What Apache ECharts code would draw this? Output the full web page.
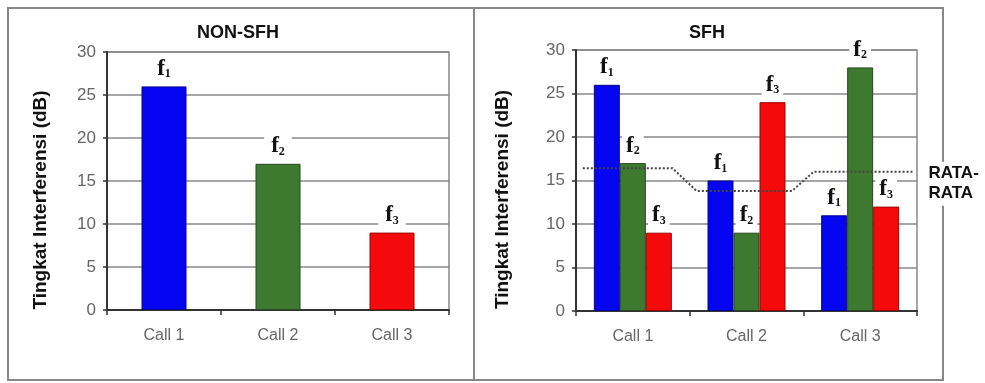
<!DOCTYPE html>
<html><head><meta charset="utf-8">
<script src="https://cdn.jsdelivr.net/npm/echarts@6/dist/echarts.min.js"></script>
<style>html,body{margin:0;padding:0;background:#fff}#c{width:985px;height:383px}</style>
</head><body><div id="c"></div>
<script>
// ---- data ----
const categories = ['Call 1', 'Call 2', 'Call 3'];
const yTicks = [0, 5, 10, 15, 20, 25, 30];
const nonSfhValues = [26, 17, 9];
const nonSfhFreq = ['1', '2', '3'];
const sfhF1 = [26, 15, 11];
const sfhF2 = [17, 9, 28];
const sfhF3 = [9, 24, 12];
// average (RATA-RATA) dotted line, x in category units (0..3)
const avgX = [0.06, 0.85, 1.06, 1.90, 2.09, 2.96];
const avgY = [16.4, 16.4, 13.8, 13.8, 16, 16];
const avgLabel = 'RATA-\nRATA';

const colors = ['#0505f2', '#3d7a30', '#f40a0a'];
const borders = ['#060690', '#26491d', '#9a0505'];

const sans = 'Liberation Sans, Arial, sans-serif';
const serif = 'Liberation Serif, Times New Roman, serif';

const rich = {
  f: { fontFamily: serif, fontWeight: 'bold', fontSize: 23, lineHeight: 22, color: '#111', verticalAlign: 'bottom' },
  s: { fontFamily: serif, fontWeight: 'bold', fontSize: 12, lineHeight: 4, color: '#111', verticalAlign: 'bottom' }
};
function fLabel(idx, padX) {
  return {
    show: true, position: 'top', distance: 3,
    formatter: '{f|f}{s|' + idx + '}',
    backgroundColor: '#fff', padding: [3, padX, 3, padX],
    rich: rich
  };
}

function yAxisCfg(gridIndex, gap) {
  return {
    type: 'value', gridIndex: gridIndex,
    min: yTicks[0], max: yTicks[yTicks.length - 1], interval: yTicks[1] - yTicks[0],
    name: 'Tingkat Interferensi (dB)', nameLocation: 'middle', nameGap: gap, nameRotate: 90,
    nameTextStyle: { fontFamily: sans, fontWeight: 'bold', fontSize: 19, color: '#111', padding: [0, 38, 0, 0] },
    axisLine: { show: true, lineStyle: { color: '#333', width: 2 } },
    axisTick: { show: true, length: 4, lineStyle: { color: '#333', width: 1.5 } },
    axisLabel: { fontFamily: sans, fontSize: 17, color: '#666', margin: 11 },
    splitLine: { show: true, lineStyle: { color: '#888', width: 1.5 } }
  };
}
function xAxisCfg(gridIndex) {
  return {
    type: 'category', gridIndex: gridIndex, data: categories,
    axisLine: { show: true, lineStyle: { color: '#333', width: 2 } },
    axisTick: { show: true, length: 5, alignWithLabel: false, lineStyle: { color: '#333', width: 1.5 } },
    axisLabel: { fontFamily: sans, fontSize: 16, color: '#666', margin: 18 },
    splitLine: { show: false }
  };
}

const chart = echarts.init(document.getElementById('c'), null, { renderer: 'canvas' });
chart.setOption({
  animation: false,
  backgroundColor: '#fff',
  title: [
    { text: 'NON-SFH', left: 238, top: 24, textAlign: 'center', padding: 0,
      textStyle: { fontFamily: sans, fontWeight: 'bold', fontSize: 18, color: '#111' } },
    { text: 'SFH', left: 707, top: 24, textAlign: 'center', padding: 0,
      textStyle: { fontFamily: sans, fontWeight: 'bold', fontSize: 18, color: '#111' } }
  ],
  graphic: [
    { type: 'rect', z: 0, shape: { x: 8, y: 8, width: 466, height: 372 },
      style: { fill: 'none', stroke: '#888', lineWidth: 2 } },
    { type: 'rect', z: 0, shape: { x: 474, y: 8, width: 469, height: 372 },
      style: { fill: 'none', stroke: '#888', lineWidth: 2 } }
  ],
  grid: [
    { left: 107, right: 536, top: 52, bottom: 73, show: true, borderColor: '#888', borderWidth: 1.5, backgroundColor: 'transparent' },
    { left: 576, right: 68, top: 50, bottom: 72, show: true, borderColor: '#888', borderWidth: 1.5, backgroundColor: 'transparent' }
  ],
  xAxis: [
    xAxisCfg(0),
    xAxisCfg(1),
    { type: 'value', gridIndex: 1, min: 0, max: 3, show: false }
  ],
  yAxis: [yAxisCfg(0, 57), yAxisCfg(1, 64)],
  series: [
    {
      name: 'NON-SFH', type: 'bar', xAxisIndex: 0, yAxisIndex: 0, barWidth: 45,
      data: nonSfhValues.map(function (v, i) {
        return { value: v, itemStyle: { color: colors[i], borderColor: borders[i], borderWidth: 1 }, label: fLabel(nonSfhFreq[i], 7) };
      })
    },
    { name: 'f1', type: 'bar', xAxisIndex: 1, yAxisIndex: 1, barWidth: 26, barGap: '0%',
      itemStyle: { color: colors[0], borderColor: borders[0], borderWidth: 1 }, label: fLabel('1', 4), data: sfhF1 },
    { name: 'f2', type: 'bar', xAxisIndex: 1, yAxisIndex: 1, barWidth: 26, barGap: '0%',
      itemStyle: { color: colors[1], borderColor: borders[1], borderWidth: 1 }, label: fLabel('2', 4), data: sfhF2 },
    { name: 'f3', type: 'bar', xAxisIndex: 1, yAxisIndex: 1, barWidth: 26, barGap: '0%',
      itemStyle: { color: colors[2], borderColor: borders[2], borderWidth: 1 }, label: fLabel('3', 4), data: sfhF3 },
    {
      name: 'RATA-RATA', type: 'line', xAxisIndex: 2, yAxisIndex: 1, z: 5,
      symbol: 'none', silent: true,
      lineStyle: { color: '#444', width: 2, type: [2, 2] },
      data: avgX.map(function (x, i) { return [x, avgY[i]]; }),
      endLabel: {
        show: true, formatter: avgLabel, distance: 14, offset: [0, 12],
        fontFamily: sans, fontWeight: 'bold', fontSize: 17, lineHeight: 20, color: '#111',
        backgroundColor: '#fff', padding: [2, 2, 2, 2], align: 'left'
      }
    }
  ]
});
</script>
</body></html>
